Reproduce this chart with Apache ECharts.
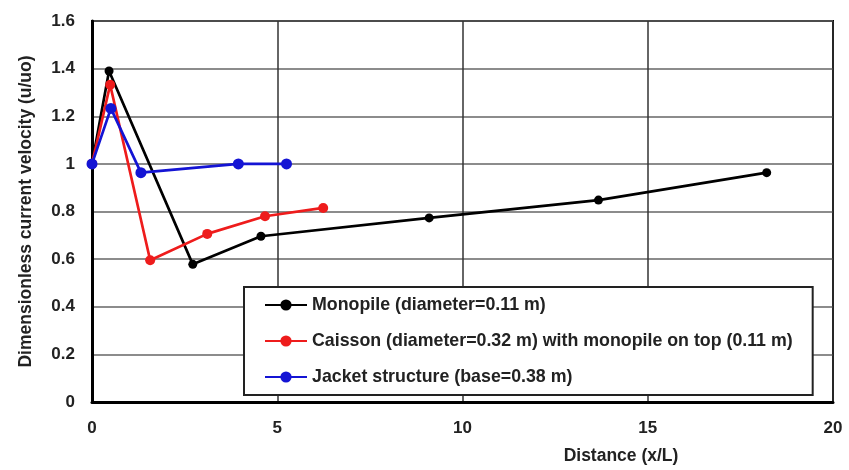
<!DOCTYPE html>
<html>
<head>
<meta charset="utf-8">
<script src="https://cdn.jsdelivr.net/npm/echarts@6/dist/echarts.min.js"></script>
<style>
  html, body { margin: 0; padding: 0; background: #fff; }
  #chart { width: 849px; height: 470px; }
</style>
</head>
<body>
<div id="chart"></div>
<script>
// Dimensionless current velocity downstream of three foundation types
const seriesNames = [
  'Monopile (diameter=0.11 m)',
  'Caisson (diameter=0.32 m) with monopile on top (0.11 m)',
  'Jacket structure (base=0.38 m)'
];

const monopileX = [0, 0.46, 2.72, 4.56, 9.10, 13.67, 18.21];
const monopileY = [1.0, 1.39, 0.578, 0.696, 0.773, 0.848, 0.963];

const caissonX = [0, 0.49, 1.57, 3.11, 4.67, 6.24];
const caissonY = [1.0, 1.332, 0.595, 0.706, 0.780, 0.815];

const jacketX = [0, 0.51, 1.32, 3.95, 5.25];
const jacketY = [1.0, 1.233, 0.963, 1.0, 1.0];

const xTicks = [0, 5, 10, 15, 20];
const yTicks = [0, 0.2, 0.4, 0.6, 0.8, 1, 1.2, 1.4, 1.6];

const colors = ['#000000', '#ee1c1c', '#1414d4'];
const symbolSizes = [9, 10, 11];

function pairs(xs, ys) {
  return xs.map((x, i) => [x, ys[i]]);
}

const FONT = 'Liberation Sans';

const chart = echarts.init(document.getElementById('chart'), null, { renderer: 'canvas' });

const lineData = [
  pairs(monopileX, monopileY),
  pairs(caissonX, caissonY),
  pairs(jacketX, jacketY)
];

chart.setOption({
  backgroundColor: '#ffffff',
  animation: false,
  grid: {
    left: 92, right: 16, top: 21, bottom: 64,
    show: true,
    borderColor: '#000',
    borderWidth: 2
  },
  xAxis: {
    type: 'value',
    min: xTicks[0],
    max: xTicks[xTicks.length - 1],
    interval: 5,
    name: 'Distance (x/L)',
    nameLocation: 'middle',
    nameGap: 45,
    nameTextStyle: {
      fontFamily: FONT, fontWeight: 'bold', fontSize: 17.5, color: '#222',
      padding: [0, 0, 0, 317]
    },
    axisLine: { show: true, onZero: false, lineStyle: { color: '#000', width: 3 } },
    axisTick: { show: false },
    axisLabel: {
      margin: 18,
      fontFamily: FONT, fontWeight: 'bold', fontSize: 17, color: '#222',
      formatter: v => String(v)
    },
    splitLine: { show: true, lineStyle: { color: '#333', width: 1.5 } }
  },
  yAxis: {
    type: 'value',
    min: yTicks[0],
    max: yTicks[yTicks.length - 1],
    interval: 0.2,
    name: 'Dimensionless current velocity (u/uo)',
    nameLocation: 'middle',
    nameGap: 57,
    nameTextStyle: { fontFamily: FONT, fontWeight: 'bold', fontSize: 17.5, color: '#222' },
    axisLine: { show: true, onZero: false, lineStyle: { color: '#000', width: 3 } },
    axisTick: { show: false },
    axisLabel: {
      margin: 17,
      fontFamily: FONT, fontWeight: 'bold', fontSize: 17, color: '#222',
      formatter: v => String(Math.round(v * 10) / 10)
    },
    splitLine: { show: true, lineStyle: { color: '#666', width: 1.5 } }
  },
  legend: {
    orient: 'vertical',
    left: 244,
    top: 287,
    data: seriesNames,
    backgroundColor: '#ffffff',
    borderColor: '#222',
    borderWidth: 2,
    padding: [8, 20, 8, 20],
    itemWidth: 42,
    itemHeight: 14,
    itemGap: 16,
    textStyle: {
      fontFamily: FONT, fontWeight: 'bold', fontSize: 17.8, color: '#222',
      lineHeight: 20
    }
  },
  series: seriesNames.map((name, i) => ({
    name: name,
    type: 'line',
    data: lineData[i],
    color: colors[i],
    symbol: 'circle',
    symbolSize: symbolSizes[i],
    lineStyle: { color: colors[i], width: 2.7 },
    itemStyle: { color: colors[i] },
    z: 2 + i
  }))
});
</script>
</body>
</html>
